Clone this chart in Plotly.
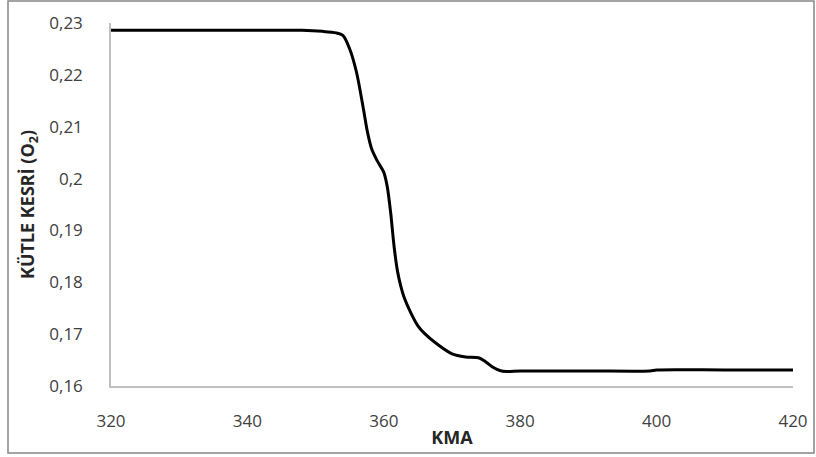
import plotly.graph_objects as go

kma = [320, 330, 340, 348, 351, 353, 354, 355, 356, 357, 357.6, 358.2, 359,
       360, 360.5, 361, 361.5, 362, 362.5, 363, 364, 365, 366, 368, 370,
       372, 374, 375, 376, 377, 378, 380, 390, 399, 400, 410, 420]
o2 = [0.2286, 0.2286, 0.2286, 0.2286, 0.2284, 0.2281, 0.2276, 0.2250,
      0.2205, 0.2135, 0.2090, 0.2058, 0.2035, 0.2012, 0.1985, 0.1935,
      0.1870, 0.1822, 0.1792, 0.1770, 0.1740, 0.1716, 0.1701, 0.1679,
      0.1662, 0.1656, 0.1654, 0.1646, 0.1636, 0.1630, 0.1628, 0.1629,
      0.1629, 0.1629, 0.1631, 0.1631, 0.1631]

x_ticks = [320, 340, 360, 380, 400, 420]
y_ticks = [0.16, 0.17, 0.18, 0.19, 0.2, 0.21, 0.22, 0.23]

fig = go.Figure(go.Scatter(
    x=kma, y=o2, mode="lines",
    line=dict(color="black", width=3, shape="spline", smoothing=0.8),
    hoverinfo="skip"))

W, H = 816, 457
L, R, T, B = 111, 23, 23, 71
pw, ph = W - L - R, H - T - B

fig.update_layout(
    width=W, height=H,
    margin=dict(l=L, r=R, t=T, b=B, autoexpand=False),
    paper_bgcolor="white", plot_bgcolor="white",
    separators=",.",
    showlegend=False,
    font=dict(family="Open Sans, Liberation Sans, sans-serif", size=17, color="#404040"),
    xaxis=dict(range=[320, 420], tickvals=x_ticks, showgrid=False, zeroline=False,
               showline=True, linecolor="#bfbfbf", linewidth=1.5, automargin=False,
               ticks="", ticklabelstandoff=19,
               tickfont=dict(size=17, color="#404040"),
               title=dict(text="<b>KMA</b>", standoff=0,
                          font=dict(size=18, color="#262626"))),
    yaxis=dict(range=[0.16, 0.23], tickvals=y_ticks, showgrid=False, zeroline=False,
               showline=True, linecolor="#bfbfbf", linewidth=1.5, automargin=False,
               ticks="", ticklabelstandoff=23,
               tickfont=dict(size=17, color="#404040"),
               title=dict(text="<b>KÜTLE KESRİ (O<sub>2</sub>)</b>", standoff=10,
                          font=dict(size=18, color="#262626"))),
    shapes=[dict(type="rect", xref="paper", yref="paper",
                 x0=(8 - L) / pw, x1=(814 - L) / pw,
                 y0=(H - B - 453) / ph, y1=(H - B - 1) / ph,
                 line=dict(color="#868686", width=1.5), layer="below")],
)

fig.write_html("out.html")
